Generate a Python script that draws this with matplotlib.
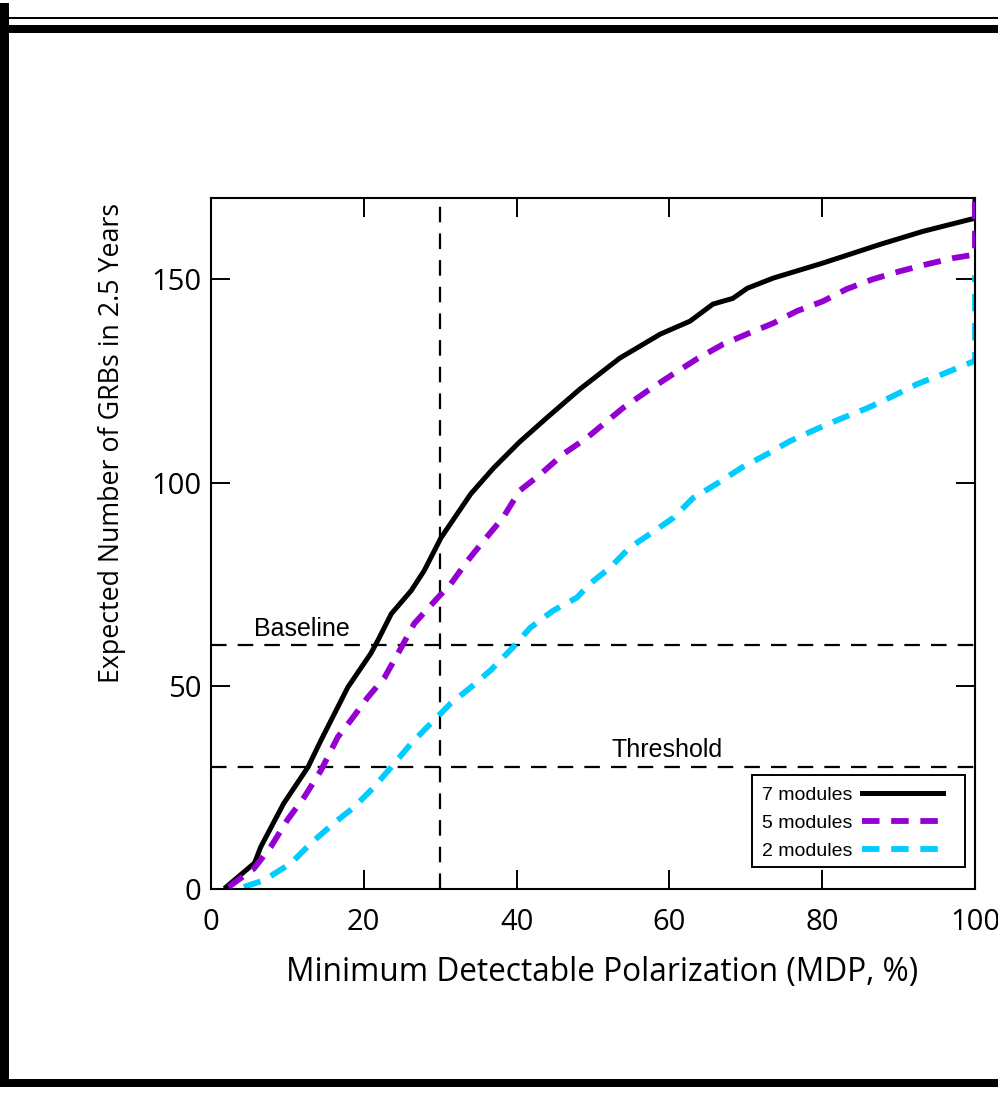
import matplotlib
matplotlib.use("Agg")
import matplotlib.pyplot as plt
from matplotlib.patches import Rectangle

# cumulative GRB counts vs MDP for the three module configurations
mdp_7 = [2.0, 5.7, 6.5, 9.5, 12.7, 14.4, 17.9, 20.9, 21.8, 23.6, 26.2, 27.9, 30.1,
         34.0, 37.0, 40.4, 44.0, 48.3, 53.5, 58.8, 62.7, 65.7, 68.3, 70.2, 73.6,
         80.1, 87.6, 93.2, 99.3, 100.0, 100.0]
n_7 = [0.5, 6.4, 10.3, 21.0, 30.0, 36.6, 49.6, 57.9, 61.0, 67.7, 73.4, 78.3, 86.4,
       97.2, 103.6, 110.0, 116.0, 123.0, 130.6, 136.5, 139.7, 143.9, 145.3, 147.8,
       150.3, 154.0, 158.6, 161.8, 164.7, 165.0, 170.0]

mdp_5 = [2.3, 5.6, 7.8, 10.0, 12.2, 14.4, 16.6, 18.3, 20.5, 22.7, 24.9, 26.6, 29.7,
         31.4, 33.6, 35.7, 38.2, 40.4, 43.1, 46.1, 49.2, 53.9, 57.1, 60.5, 63.6,
         67.0, 70.5, 73.6, 76.7, 80.1, 83.2, 86.6, 90.2, 93.7, 97.1, 99.7, 100.0, 100.0]
n_5 = [0.5, 5.0, 10.3, 17.0, 22.6, 29.2, 37.4, 41.5, 47.1, 52.0, 59.4, 65.3, 71.7,
       75.1, 80.8, 85.7, 91.3, 98.0, 102.0, 107.0, 111.0, 118.3, 122.5, 126.7, 130.4,
       134.0, 136.8, 139.2, 142.2, 144.6, 147.6, 150.0, 152.0, 153.7, 155.2, 156.0,
       156.2, 170.0]

mdp_2 = [4.3, 7.0, 10.5, 13.1, 16.1, 18.7, 21.3, 23.6, 26.2, 28.8, 31.4, 34.0, 36.6,
         39.5, 41.8, 44.8, 47.9, 49.6, 52.2, 54.8, 57.5, 60.5, 63.1, 66.2, 69.4,
         72.8, 75.8, 79.3, 82.3, 85.9, 89.3, 92.4, 95.8, 99.3, 100.0, 100.0]
n_2 = [0.5, 2.2, 6.4, 11.3, 16.2, 20.1, 25.0, 30.0, 35.8, 40.8, 45.7, 49.6, 53.8,
       59.4, 64.3, 68.5, 71.7, 75.1, 79.0, 84.0, 87.4, 91.3, 96.2, 99.7, 103.6,
       107.0, 110.2, 113.2, 115.6, 118.3, 121.3, 124.2, 126.7, 129.4, 130.0, 151.0]

baseline_n = 60
threshold_n = 30
mdp_cut = 30

x_ticks = [0, 20, 40, 60, 80, 100]
y_ticks = [0, 50, 100, 150]

W, H = 998, 1094


def fx(px):
    return px / W


def fy(py):
    return 1 - py / H


fig = plt.figure(figsize=(W / 100, H / 100), dpi=100)
ax = fig.add_axes([fx(211), fy(889), 764 / W, 691 / H])

ax.plot(mdp_7, n_7, color="black", lw=3.6, label="7 modules", zorder=3)
ax.plot(mdp_5, n_5, color="#9400d3", lw=4.2, dashes=(3.0, 2.0), label="5 modules", zorder=4)
ax.plot(mdp_2, n_2, color="#00ccff", lw=4.2, dashes=(3.0, 2.0), label="2 modules", zorder=2)

ref = dict(color="black", lw=1.6, dashes=(7, 5), zorder=1)
ax.axhline(baseline_n, **ref)
ax.axhline(threshold_n, **ref)
ax.axvline(mdp_cut, **ref)

lbl_font = "Liberation Sans"
ax.text(11.9, baseline_n + 2.2, "Baseline", family=lbl_font, fontsize=18,
        ha="center", va="baseline")
ax.text(59.7, threshold_n + 2.4, "Threshold", family=lbl_font, fontsize=18,
        ha="center", va="baseline")

ax.set_xlim(0, 100)
ax.set_ylim(0, 170)
ax.set_xticks(x_ticks)
ax.set_yticks(y_ticks)
ax.tick_params(direction="in", length=14, width=1.4, top=True, right=True,
               labelsize=21)
ax.tick_params(axis="x", pad=14)
ax.tick_params(axis="y", pad=7)
for lab in ax.get_xticklabels() + ax.get_yticklabels():
    lab.set_family("Open Sans")
for s in ax.spines.values():
    s.set_linewidth(1.5)

fig.text(fx(602), fy(972), "Minimum Detectable Polarization (MDP, %)",
         family="Open Sans", fontsize=22.8, ha="center", va="center")
fig.text(fx(112), fy(443), "Expected Number of GRBs in 2.5 Years",
         family="Open Sans", fontsize=19.3, rotation=90, ha="center", va="center")

# legend without its own frame; box drawn separately
leg = ax.legend(loc="center right", bbox_to_anchor=(fx(943), fy(823)),
                bbox_transform=fig.transFigure, markerfirst=False,
                prop={"family": lbl_font, "size": 14}, handlelength=4.15,
                labelspacing=0.55, borderpad=0, borderaxespad=0,
                handletextpad=0.5, frameon=False)
box = Rectangle((fx(752), fy(867)), 213 / W, 92 / H, transform=fig.transFigure,
                facecolor="white", edgecolor="black", lw=1.4, zorder=4.5)
ax.add_artist(box)
leg.set_zorder(6)

# page frame around the figure
frame = [
    Rectangle((fx(5), fy(19)), 993 / W, 2 / H),
    Rectangle((fx(5), fy(33)), 993 / W, 8 / H),
    Rectangle((0, fy(1087)), 9 / W, 1084 / H),
    Rectangle((fx(4), fy(1087)), 994 / W, 8 / H),
]
for r in frame:
    r.set_facecolor("black")
    r.set_edgecolor("none")
    r.set_transform(fig.transFigure)
    fig.add_artist(r)

fig.savefig("out.png", dpi=100)
